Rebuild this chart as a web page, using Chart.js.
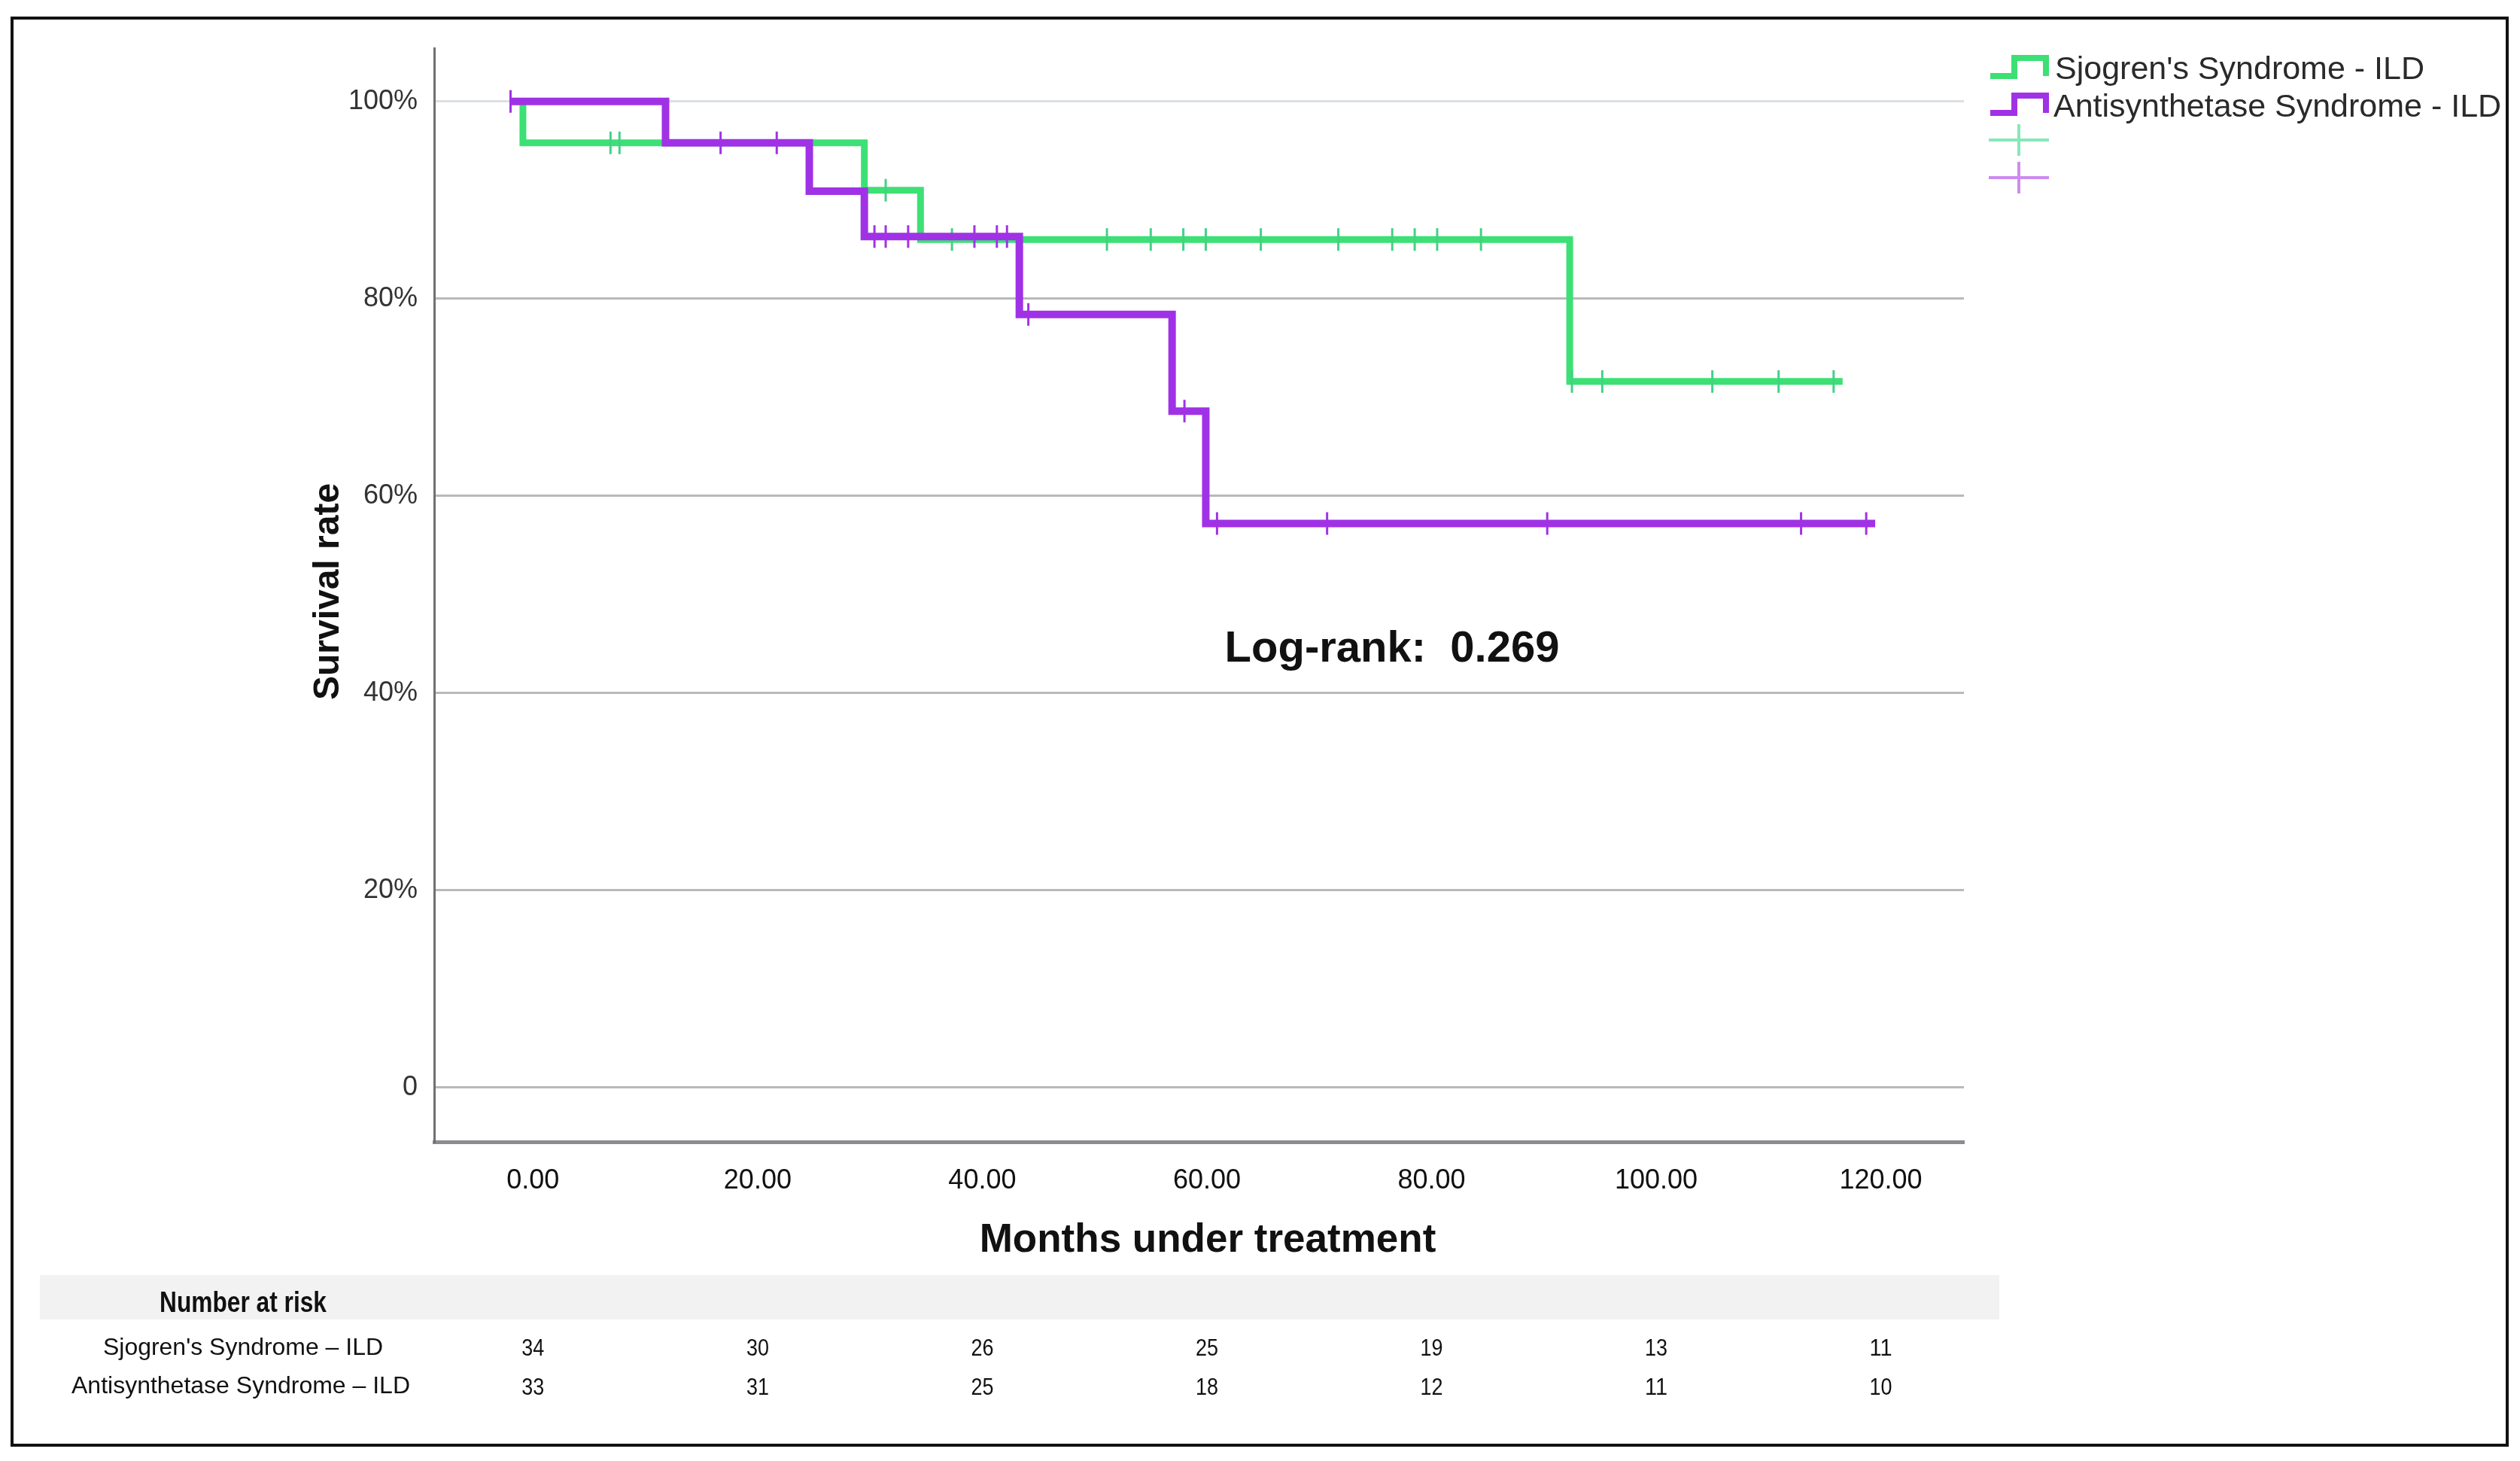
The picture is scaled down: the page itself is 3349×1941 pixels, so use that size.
<!DOCTYPE html>
<html>
<head>
<meta charset="utf-8">
<title>Survival rate: Sjogren's vs Antisynthetase Syndrome - ILD</title>
<script src="https://cdn.jsdelivr.net/npm/chart.js@4.4.1/dist/chart.umd.min.js"></script>
<style>
  html, body { margin: 0; padding: 0; background: #fff; overflow: hidden; }
  canvas { display: block; }
</style>
</head>
<body>
<canvas id="kmChart" width="3349" height="1941"></canvas>
<script>
// axis ticks
const monthTicks = [0, 20, 40, 60, 80, 100, 120];
const survivalTicks = [0, 20, 40, 60, 80, 100];

const seriesNames = ["Sjogren's Syndrome - ILD", "Antisynthetase Syndrome - ILD"];
const riskLabels = ["Sjogren's Syndrome \u2013 ILD", "Antisynthetase Syndrome \u2013 ILD"];

// Sjogren's Syndrome - ILD : step times (months) and survival (%) after each step
const sjStepTimes = [-2.0, -0.9, 29.5, 34.5, 92.3];
const sjStepSurv = [100, 95.8, 91.0, 86.0, 71.6];
const sjEndTime = 116.6;
const sjCensored = [6.9, 7.7, 31.4, 37.3, 51.1, 55.0, 57.9, 59.9, 64.8, 71.7, 76.5, 78.5, 80.5, 84.4,
                    92.5, 95.2, 105.0, 110.9, 115.8];

// Antisynthetase Syndrome - ILD
const asStepTimes = [-2.0, 11.8, 24.6, 29.5, 43.3, 56.9, 59.9];
const asStepSurv = [100, 95.8, 90.9, 86.3, 78.4, 68.6, 57.2];
const asEndTime = 119.5;
const asCensored = [-2.0, 16.7, 21.7, 30.4, 31.4, 33.4, 39.3, 41.3, 42.2, 44.1, 58.0, 60.9, 70.7,
                    90.3, 112.9, 118.7];

// number at risk at each month tick
const sjAtRisk = [34, 30, 26, 25, 19, 13, 11];
const asAtRisk = [33, 31, 25, 18, 12, 11, 10];

const logRankText = 'Log-rank:  0.269';

const green = '#3ce074';
const purple = '#a032e6';
const sans = '"Liberation Sans", Arial, sans-serif';
const narrow = '"Liberation Sans Narrow", "Arial Narrow", "Liberation Sans", sans-serif';

function curvePoints(times, surv, end) {
  const pts = times.map((t, i) => ({ x: t, y: surv[i] }));
  pts.push({ x: end, y: surv[surv.length - 1] });
  return pts;
}

function survAt(times, surv, t) {
  let s = surv[0];
  for (let i = 0; i < times.length; i++) {
    if (times[i] <= t) s = surv[i];
  }
  return s;
}

function censorPoints(times, surv, cens) {
  return cens.map(t => ({ x: t, y: survAt(times, surv, t) }));
}

// draw text squeezed to a target width (table uses a narrow face)
function fitText(ctx, text, x, y, maxW) {
  const w = ctx.measureText(text).width;
  const k = w > maxW ? maxW / w : 1;
  ctx.save();
  ctx.translate(x, y);
  ctx.scale(k, 1);
  ctx.fillText(text, 0, 0);
  ctx.restore();
}

const extras = {
  id: 'extras',
  beforeDraw(chart) {
    const ctx = chart.ctx;
    ctx.save();
    ctx.fillStyle = '#fff';
    ctx.fillRect(0, 0, chart.width, chart.height);
    ctx.restore();
  },
  afterDraw(chart) {
    const ctx = chart.ctx;
    const xs = chart.scales.x;
    ctx.save();
    ctx.fillStyle = '#111';
    ctx.textAlign = 'center';
    ctx.textBaseline = 'alphabetic';

    // axis titles
    ctx.font = 'bold 53px ' + sans;
    ctx.fillText('Months under treatment', 1605, 1663);
    ctx.save();
    ctx.translate(450, 786);
    ctx.rotate(-Math.PI / 2);
    ctx.font = 'bold 48px ' + sans;
    ctx.fillText('Survival rate', 0, 0);
    ctx.restore();

    // log-rank
    ctx.font = 'bold 58px ' + sans;
    ctx.fillText(logRankText, 1850, 879);

    // legend
    ctx.lineWidth = 8;
    ctx.lineJoin = 'miter';
    [[green, 101, 77], [purple, 150, 127]].forEach(([col, lo, hi]) => {
      ctx.strokeStyle = col;
      ctx.beginPath();
      ctx.moveTo(2645, lo);
      ctx.lineTo(2677, lo);
      ctx.lineTo(2677, hi);
      ctx.lineTo(2719, hi);
      ctx.lineTo(2719, lo);
      ctx.stroke();
    });
    ctx.lineWidth = 4;
    [['#86e8b8', 186], ['#cc8cf0', 236]].forEach(([col, cy]) => {
      ctx.strokeStyle = col;
      ctx.beginPath();
      ctx.moveTo(2643, cy); ctx.lineTo(2723, cy);
      ctx.moveTo(2683, cy - 21); ctx.lineTo(2683, cy + 21);
      ctx.stroke();
    });
    ctx.fillStyle = '#2a2a2a';
    ctx.textAlign = 'left';
    ctx.font = '43px ' + sans;
    ctx.fillText(seriesNames[0], 2731, 105);
    ctx.fillText(seriesNames[1], 2729, 155);

    // number at risk table
    ctx.fillStyle = '#f2f2f2';
    ctx.fillRect(53, 1694, 2604, 59);
    ctx.fillStyle = '#111';
    ctx.textAlign = 'center';
    ctx.font = 'bold 38px ' + narrow;
    fitText(ctx, 'Number at risk', 323, 1743, 222);
    ctx.font = '32px ' + narrow;
    fitText(ctx, riskLabels[0], 323, 1800, 372);
    fitText(ctx, riskLabels[1], 320, 1851, 455);
    ctx.font = '32px ' + narrow;
    monthTicks.forEach((m, i) => {
      const px = xs.getPixelForValue(m);
      fitText(ctx, String(sjAtRisk[i]), px, 1801, 30);
      fitText(ctx, String(asAtRisk[i]), px, 1853, 30);
    });

    // frame
    ctx.strokeStyle = '#111';
    ctx.lineWidth = 4;
    ctx.strokeRect(16, 24, 3316, 1896);
    ctx.restore();
  }
};

new Chart(document.getElementById('kmChart'), {
  type: 'scatter',
  data: {
    datasets: [
      {
        label: seriesNames[1],
        data: curvePoints(asStepTimes, asStepSurv, asEndTime),
        showLine: true, stepped: 'before',
        borderColor: purple, borderWidth: 10, pointRadius: 0, order: 1
      },
      {
        label: seriesNames[1] + ' censored',
        data: censorPoints(asStepTimes, asStepSurv, asCensored),
        borderColor: purple, backgroundColor: purple,
        pointStyle: 'line', rotation: 90, pointRadius: 15, pointBorderWidth: 3, order: 0
      },
      {
        label: seriesNames[0],
        data: curvePoints(sjStepTimes, sjStepSurv, sjEndTime),
        showLine: true, stepped: 'before',
        borderColor: green, borderWidth: 9, pointRadius: 0, order: 3
      },
      {
        label: seriesNames[0] + ' censored',
        data: censorPoints(sjStepTimes, sjStepSurv, sjCensored),
        borderColor: '#45d086', backgroundColor: '#45d086',
        pointStyle: 'line', rotation: 90, pointRadius: 15, pointBorderWidth: 3, order: 2
      }
    ]
  },
  options: {
    responsive: false,
    animation: false,
    devicePixelRatio: 1,
    layout: { padding: { left: 0, right: 739, top: 64, bottom: 0 } },
    plugins: { legend: { display: false }, tooltip: { enabled: false } },
    scales: {
      x: {
        type: 'linear', min: -8.8, max: 127.4,
        afterFit: s => { s.height = 424; },
        afterBuildTicks: s => { s.ticks = monthTicks.map(v => ({ value: v })); },
        grid: { display: false, drawTicks: false },
        border: { display: true, color: '#8b8b90', width: 5 },
        ticks: { padding: 30, color: '#111', font: { family: sans, size: 36 }, callback: v => v.toFixed(2) }
      },
      y: {
        type: 'linear', min: -5.5, max: 105.4,
        afterFit: s => { s.width = 577; },
        afterBuildTicks: s => { s.ticks = survivalTicks.map(v => ({ value: v })); },
        grid: {
          drawTicks: false, lineWidth: 3,
          color: c => (c.tick && c.tick.value === 100) ? '#dcdfe3' : '#b9b9b9'
        },
        border: { display: true, color: '#707070', width: 3 },
        ticks: { padding: 22, color: '#333', font: { family: sans, size: 36 }, callback: v => v === 0 ? '0' : v + '%' }
      }
    }
  },
  plugins: [extras]
});
</script>
</body>
</html>
